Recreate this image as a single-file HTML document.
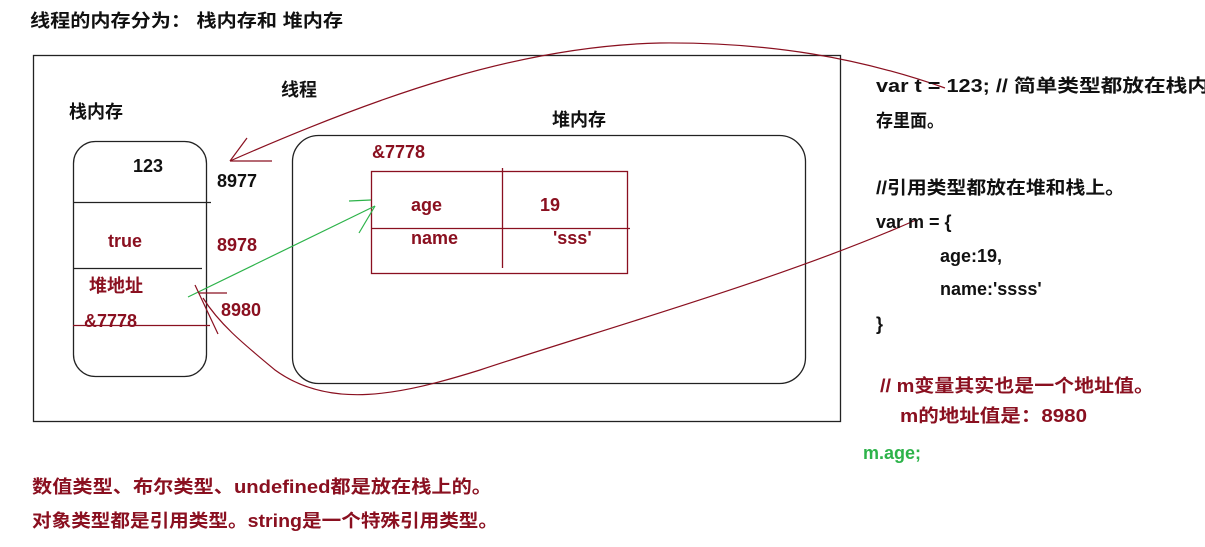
<!DOCTYPE html>
<html><head><meta charset="utf-8"><style>
html,body{margin:0;padding:0;background:#fff;}
svg{display:block;}
text{font-family:"Liberation Sans","Noto Sans CJK SC",sans-serif;font-weight:bold;font-size:18px;}
.k{fill:#111;}
.r{fill:#8a1020;}
.g{fill:#2db34a;}
</style></head><body>
<svg width="1205" height="547" viewBox="0 0 1205 547" xmlns="http://www.w3.org/2000/svg">
<text class="k" x="30" y="27" textLength="313" lengthAdjust="spacingAndGlyphs">线程的内存分为： 栈内存和 堆内存</text>
<rect x="33.5" y="55.5" width="807" height="366" fill="none" stroke="#222" stroke-width="1.3"/>
<text class="k" x="281" y="96">线程</text>
<text class="k" x="69" y="118">栈内存</text>
<text class="k" x="552" y="126">堆内存</text>
<rect x="73.5" y="141.5" width="133" height="235" rx="22" fill="none" stroke="#222" stroke-width="1.3"/>
<line x1="73" y1="202.5" x2="211" y2="202.5" stroke="#222" stroke-width="1.3"/>
<line x1="73" y1="268.5" x2="202" y2="268.5" stroke="#222" stroke-width="1.3"/>
<line x1="73" y1="325.5" x2="210" y2="325.5" stroke="#8a1020" stroke-width="1.3"/>
<text class="k" x="133" y="172">123</text>
<text class="k" x="217" y="187">8977</text>
<text class="r" x="108" y="247">true</text>
<text class="r" x="217" y="251">8978</text>
<text class="r" x="89" y="292">堆地址</text>
<text class="r" x="84" y="327">&amp;7778</text>
<text class="r" x="221" y="316">8980</text>
<rect x="292.5" y="135.5" width="513" height="248" rx="26" fill="none" stroke="#222" stroke-width="1.3"/>
<text class="r" x="372" y="158">&amp;7778</text>
<rect x="371.5" y="171.5" width="256" height="102" fill="none" stroke="#8a1020" stroke-width="1.3"/>
<line x1="502.5" y1="168" x2="502.5" y2="268" stroke="#8a1020" stroke-width="1.3"/>
<line x1="371" y1="228.5" x2="630" y2="228.5" stroke="#8a1020" stroke-width="1.3"/>
<text class="r" x="411" y="211">age</text>
<text class="r" x="540" y="211">19</text>
<text class="r" x="411" y="244">name</text>
<text class="r" x="553" y="244">'sss'</text>
<line x1="188" y1="297" x2="375" y2="206" stroke="#2db34a" stroke-width="1.2"/>
<line x1="349" y1="201" x2="371" y2="200" stroke="#2db34a" stroke-width="1.2"/>
<line x1="375" y1="206" x2="359" y2="233" stroke="#2db34a" stroke-width="1.2"/>
<path d="M945,88 C860,58 770,42 660,43 C520,46 380,95 230,161" fill="none" stroke="#8a1020" stroke-width="1.2"/>
<line x1="230" y1="161" x2="247" y2="138" stroke="#8a1020" stroke-width="1.2"/>
<line x1="230" y1="161" x2="272" y2="161" stroke="#8a1020" stroke-width="1.2"/>
<path d="M916,220 C780,280 600,330 480,370 C400,395 330,410 275,370 C245,345 220,325 203,298" fill="none" stroke="#8a1020" stroke-width="1.2"/>
<line x1="195" y1="285" x2="218" y2="334" stroke="#8a1020" stroke-width="1.2"/>
<line x1="199" y1="293" x2="227" y2="293" stroke="#8a1020" stroke-width="1.2"/>
<text class="k" x="876" y="92" textLength="333" lengthAdjust="spacingAndGlyphs">var t = 123;  // 简单类型都放在栈内</text>
<text class="k" x="876" y="127" textLength="68" lengthAdjust="spacingAndGlyphs">存里面。</text>
<text class="k" x="876" y="194" textLength="249" lengthAdjust="spacingAndGlyphs">//引用类型都放在堆和栈上。</text>
<text class="k" x="876" y="228">var m = {</text>
<text class="k" x="940" y="262">age:19,</text>
<text class="k" x="940" y="295">name:'ssss'</text>
<text class="k" x="876" y="330">}</text>
<text class="r" x="880" y="392" textLength="274" lengthAdjust="spacingAndGlyphs">// m变量其实也是一个地址值。</text>
<text class="r" x="900" y="422" textLength="187" lengthAdjust="spacingAndGlyphs">m的地址值是：8980</text>
<text class="g" x="863" y="459">m.age;</text>
<text class="r" x="32" y="493" textLength="460" lengthAdjust="spacingAndGlyphs">数值类型、布尔类型、undefined都是放在栈上的。</text>
<text class="r" x="32" y="527" textLength="466" lengthAdjust="spacingAndGlyphs">对象类型都是引用类型。string是一个特殊引用类型。</text>
</svg>
</body></html>
